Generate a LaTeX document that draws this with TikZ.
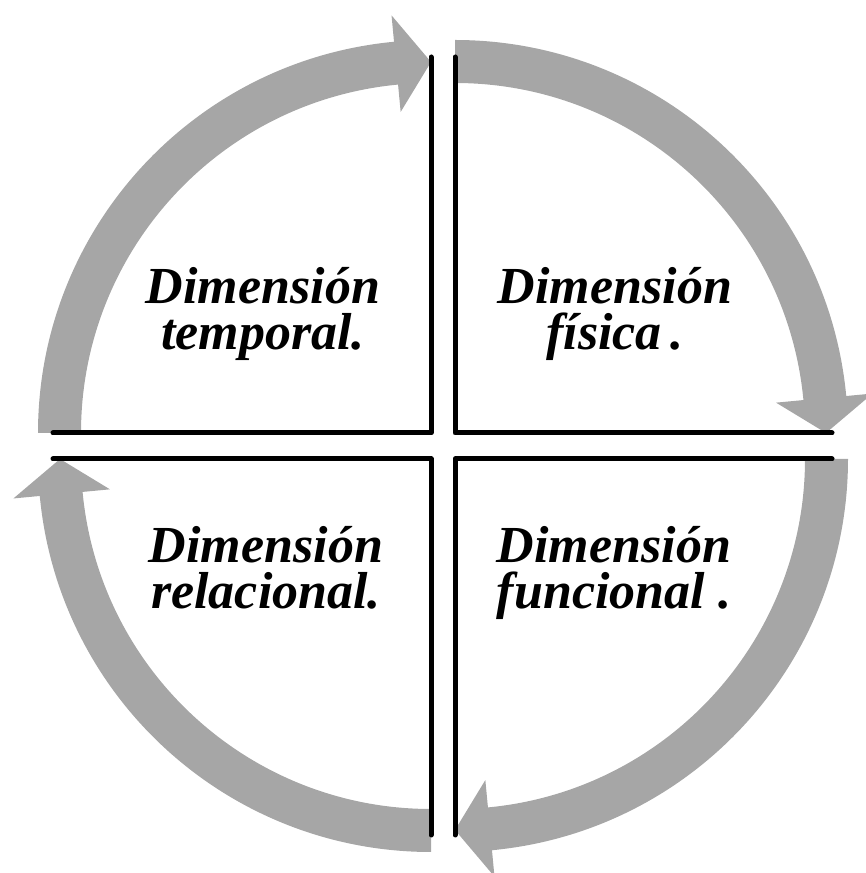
\documentclass[tikz,border=0pt]{standalone}
\usepackage{fontspec}
\setmainfont{Liberation Serif}
\usepackage{tikz}
\usepackage{xcolor}
\definecolor{cyclegray}{HTML}{A6A6A6}

\begin{document}
\begin{tikzpicture}[x=1pt, y=1pt,
  quad/.style={line width=5pt, draw=black, line cap=round, line join=round},
  dimlabel/.style={align=center, anchor=base, inner sep=0pt,
    font=\fontsize{52}{46}\selectfont\bfseries\itshape},
  cyclearrow/.style={fill=cyclegray},
]
\useasboundingbox (0,0) rectangle (865,873);

\coordinate (tl) at (431,440);
\coordinate (tr) at (455,440);
\coordinate (br) at (455,414);
\coordinate (bl) at (431,414);

% gray arc arrows, clockwise round the four corners
\foreach \c/\s in {tl/180, tr/90, br/0, bl/-90}{
  \pgfmathsetmacro\t{\s-90}
  \pgfmathsetmacro\b{\s-84.6}
  \begin{scope}[shift={(\c)}]
    \fill[cyclearrow] (\s:393pt) arc[start angle=\s, end angle=\b, radius=393pt]
      -- (\b:419.5pt) -- (\t:371pt) -- (\b:322.5pt) -- (\b:350pt)
      arc[start angle=\b, end angle=\s, radius=350pt] -- cycle;
  \end{scope}
}

\coordinate (tltop) at (431,816);
\coordinate (tlleft) at (53,440);
\coordinate (trtop) at (455,816);
\coordinate (trright) at (832,440);
\coordinate (brbot) at (455,38);
\coordinate (brright) at (832,414);
\coordinate (blbot) at (431,38);
\coordinate (blleft) at (53,414);

\draw[quad] (tltop) -- (tl) -- (tlleft);
\draw[quad] (trtop) -- (tr) -- (trright);
\draw[quad] (brbot) -- (br) -- (brright);
\draw[quad] (blbot) -- (bl) -- (blleft);

\node[dimlabel] (temporal)   at (263,523) {Dimensión\\temporal.};
\node[dimlabel] (fisica)     at (615,523) {Dimensión\\física\,.};
\node[dimlabel] (relacional) at (266,264) {Dimensión\\relacional.};
\node[dimlabel] (funcional)  at (614,264) {Dimensión\\funcional .};
\end{tikzpicture}
\end{document}
